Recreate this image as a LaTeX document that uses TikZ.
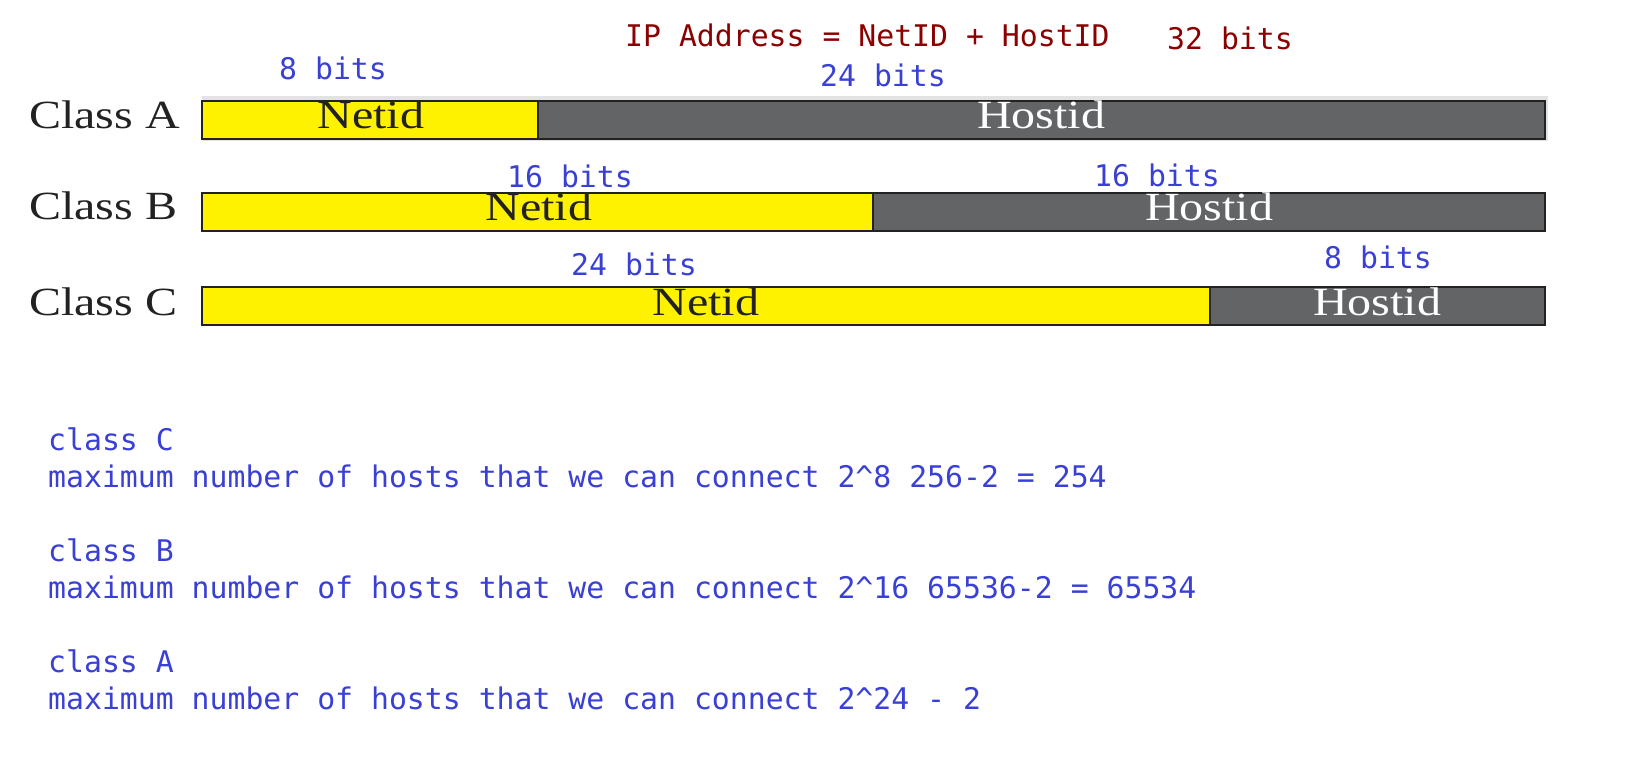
\documentclass[tikz,border=0pt]{standalone}
\usepackage{fontspec}
\newfontfamily\monof{DejaVu Sans Mono}
\newfontfamily\serifo{Liberation Serif}
\definecolor{lblblue}{RGB}{58,64,212}
\definecolor{lblred}{RGB}{139,0,0}
\definecolor{netyel}{RGB}{255,242,0}
\definecolor{hostgray}{RGB}{99,100,102}
\definecolor{edgedark}{RGB}{34,34,34}
\tikzset{
  seg/.style={draw=edgedark, line width=1.4pt, minimum height=38pt, inner sep=0pt, outer sep=0pt, anchor=north west},
  netseg/.style={seg, fill=netyel},
  hostseg/.style={seg, fill=hostgray},
  bartxt/.style={anchor=base, inner sep=0pt, font=\serifo\fontsize{40}{40}\selectfont},
  classlbl/.style={anchor=base west, inner sep=0pt, font=\serifo\fontsize{40}{40}\selectfont, text=edgedark},
  bitlbl/.style={anchor=base west, inner sep=0pt, font=\monof\fontsize{29.8}{36}\selectfont, text=lblblue},
  redlbl/.style={anchor=base west, inner sep=0pt, font=\monof\fontsize{29.8}{36}\selectfont, text=lblred},
  notelbl/.style={anchor=base west, inner sep=0pt, font=\monof\fontsize{29.8}{36}\selectfont, text=lblblue}
}
\begin{document}
\begin{tikzpicture}[x=1pt,y=-1pt]
\useasboundingbox (0,0) rectangle (1634,762);
\fill[white] (0,0) rectangle (1634,762);
% light shadow strip above class A bar
\fill[gray!22] (202,96) rectangle (1548,141);
% Class A
\node[classlbl] (clA) at (29,129) {\scalebox{1.2}[1]{Class A}};
\node[netseg, minimum width=336pt] (anet) at (202,101) {};
\node[hostseg, minimum width=1007pt] (ahost) at (538,101) {};
\node[bartxt, text=edgedark] (anettxt) at (371,129) {\scalebox{1.2}[1]{Netid}};
\node[bartxt, text=white] (ahosttxt) at (1041,129) {\scalebox{1.2}[1]{Hostid}};
% Class B
\node[classlbl] (clB) at (29,220) {\scalebox{1.2}[1]{Class B}};
\node[netseg, minimum width=671pt] (bnet) at (202,193) {};
\node[hostseg, minimum width=672pt] (bhost) at (873,193) {};
\node[bartxt, text=edgedark] (bnettxt) at (539,221) {\scalebox{1.2}[1]{Netid}};
\node[bartxt, text=white] (bhosttxt) at (1209,221) {\scalebox{1.2}[1]{Hostid}};
% Class C
\node[classlbl] (clC) at (29,316) {\scalebox{1.2}[1]{Class C}};
\node[netseg, minimum width=1008pt] (cnet) at (202,287) {};
\node[hostseg, minimum width=335pt] (chost) at (1210,287) {};
\node[bartxt, text=edgedark] (cnettxt) at (706,316) {\scalebox{1.2}[1]{Netid}};
\node[bartxt, text=white] (chosttxt) at (1377,316) {\scalebox{1.2}[1]{Hostid}};
% top labels
\node[redlbl] (ipeq) at (625,47) {IP Address = NetID + HostID};
\node[redlbl] (b32) at (1167,50) {32 bits};
\node[bitlbl] (a8) at (279,80) {8 bits};
\node[bitlbl] (a24) at (820,87) {24 bits};
\node[bitlbl] (b16n) at (507,188) {16 bits};
\node[bitlbl] (b16h) at (1094,187) {16 bits};
\node[bitlbl] (c24) at (571,276) {24 bits};
\node[bitlbl] (c8) at (1324,269) {8 bits};
% notes
\node[notelbl] (n1) at (48,450) {class C};
\node[notelbl] (n2) at (48,487) {maximum number of hosts that we can connect 2\string^8 256-2 = 254};
\node[notelbl] (n3) at (48,561) {class B};
\node[notelbl] (n4) at (48,598) {maximum number of hosts that we can connect 2\string^16 65536-2 = 65534};
\node[notelbl] (n5) at (48,672) {class A};
\node[notelbl] (n6) at (48,709) {maximum number of hosts that we can connect 2\string^24 - 2};
\end{tikzpicture}
\end{document}
